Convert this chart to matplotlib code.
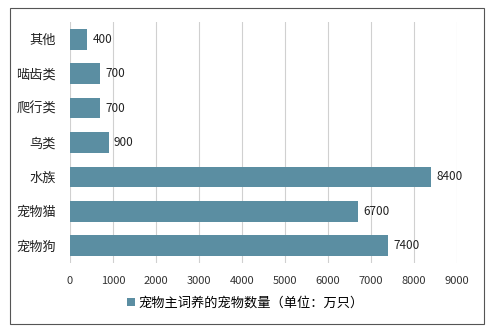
import matplotlib.pyplot as plt
from matplotlib.patches import Rectangle

plt.rcParams['font.family'] = ['Noto Sans CJK SC', 'DejaVu Sans']

# 数据（从上到下）
categories = ['其他', '啮齿类', '爬行类', '鸟类', '水族', '宠物猫', '宠物狗']
values = [400, 700, 700, 900, 8400, 6700, 7400]
xticks = list(range(0, 10000, 1000))
legend_label = '宠物主词养的宠物数量（单位：万只）'

bar_color = '#5b8ea2'

fig = plt.figure(figsize=(4.91, 3.32), dpi=100)
ax = fig.add_axes([70 / 491, 1 - 263 / 332, (457 - 70) / 491, (263 - 22) / 332])

ypos = list(range(len(categories)))
bars = ax.barh(ypos, values, height=0.6, color=bar_color, label=legend_label, zorder=3)
ax.set_ylim(len(categories) - 0.5, -0.5)
ax.set_xlim(0, 9000)
ax.set_yticks(ypos)
ax.set_yticklabels(categories, fontsize=9.5, color='#222222')
ax.set_xticks(xticks)
ax.set_xticklabels([str(t) for t in xticks], fontsize=8, color='#333333')
ax.tick_params(axis='y', length=0, pad=10)
ax.tick_params(axis='x', length=0, pad=9)

for b, v in zip(bars, values):
    ax.text(v + 120, b.get_y() + b.get_height() / 2, str(v),
            va='center', ha='left', fontsize=8.5, color='#222222')

ax.grid(axis='x', color='#d0d0d0', linewidth=0.8, zorder=0)
for s in ax.spines.values():
    s.set_visible(False)

fig.legend(loc='center', bbox_to_anchor=(0.5, 1 - 303 / 332), frameon=False,
           fontsize=9.5, handlelength=0.6, handleheight=0.6, handletextpad=0.3)

# 外边框
fig.patches.append(Rectangle((10 / 491, 1 - 324 / 332), 474 / 491, 316 / 332,
                             transform=fig.transFigure, fill=False,
                             edgecolor='#555555', linewidth=0.8))

fig.savefig('out.png', dpi=100)
